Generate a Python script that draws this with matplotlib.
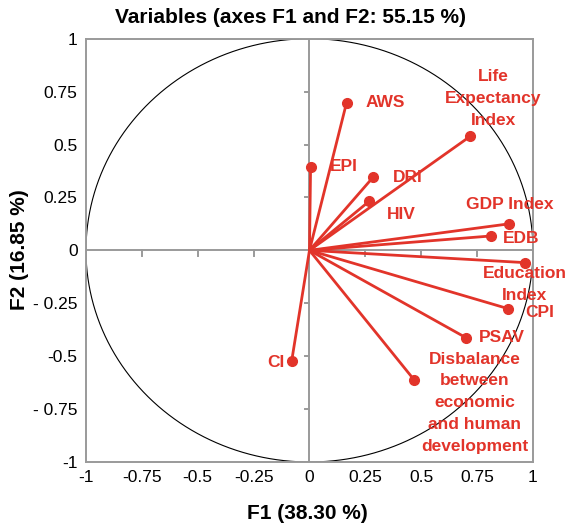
import matplotlib
matplotlib.use("Agg")
import matplotlib.pyplot as plt
import numpy as np

plt.rcParams['font.family'] = ['Liberation Sans', 'DejaVu Sans']

variables = ["AWS", "EPI", "DRI", "HIV", "Life\nExpectancy\nIndex", "GDP Index", "EDB",
             "Education\nIndex", "CPI", "PSAV",
             "Disbalance\nbetween\neconomic\nand human\ndevelopment", "CI"]
f1 = [0.166, 0.005, 0.285, 0.266, 0.718, 0.891, 0.813, 0.964, 0.887, 0.699, 0.469, -0.080]
f2 = [0.698, 0.396, 0.346, 0.231, 0.538, 0.125, 0.068, -0.058, -0.275, -0.412, -0.613, -0.525]
# label anchor positions (data coords) and alignment
lab_x = [0.25, 0.092, 0.372, 0.345, 0.822, 0.699, 0.864, 0.964, 0.967, 0.758, 0.740, -0.15]
lab_y = [0.698, 0.396, 0.342, 0.168, 0.716, 0.215, 0.058, -0.161, -0.294, -0.410, -0.720, -0.530]
lab_ha = ["left", "left", "left", "left", "center", "left", "left", "center", "left", "left", "center", "center"]

ticks = [-1, -0.75, -0.5, -0.25, 0, 0.25, 0.5, 0.75, 1]
xtick_labels = ["-1", "-0.75", "-0.5", "-0.25", "0", "0.25", "0.5", "0.75", "1"]
ytick_labels = ["-1", "- 0.75", "-0.5", "- 0.25", "0", "0.25", "0.5", "0.75", "1"]

red = "#E2342A"
grey = "#9a9a9a"

fig = plt.figure(figsize=(5.69, 5.28), dpi=100)
ax = fig.add_axes([0.1511, 0.125, 0.7856, 0.8017])
ax.set_xlim(-1, 1)
ax.set_ylim(-1, 1)

# unit circle
t = np.linspace(0, 2 * np.pi, 400)
ax.plot(np.cos(t), np.sin(t), color="black", lw=0.8, zorder=2)

# center axes
ax.axhline(0, color=grey, lw=1.4, zorder=1)
ax.axvline(0, color=grey, lw=1.4, zorder=1)
for tk in ticks:
    if tk in (-1, 0, 1):
        continue
    ax.plot([tk, tk], [0, -0.025], color=grey, lw=1.4, zorder=1)
    ax.plot([0, -0.022], [tk, tk], color=grey, lw=1.4, zorder=1)

for x, y in zip(f1, f2):
    ax.plot([0, x], [0, y], color=red, lw=2.0, zorder=3, solid_capstyle="round")
    ax.plot(x, y, "o", color=red, ms=7, zorder=4)

for name, lx, ly, ha in zip(variables, lab_x, lab_y, lab_ha):
    ax.text(lx, ly, name, color=red, fontsize=12.5, fontweight="bold", ha=ha, va="center",
            linespacing=1.57, zorder=5)

for s in ax.spines.values():
    s.set_color(grey)
    s.set_linewidth(1.4)

ax.set_xticks(ticks)
ax.set_xticklabels(xtick_labels)
ax.set_yticks(ticks)
ax.set_yticklabels(ytick_labels)
ax.tick_params(length=0, labelsize=12.5, pad=6)

fig.text(0.51, 0.967, "Variables (axes F1 and F2: 55.15 %)", ha="center", va="center",
         fontsize=15, fontweight="bold")
fig.text(0.54, 0.027, "F1 (38.30 %)", ha="center", va="center", fontsize=15, fontweight="bold")
fig.text(0.034, 0.528, "F2 (16.85 %)", ha="center", va="center", fontsize=15, fontweight="bold",
         rotation=90)

fig.savefig("out.png", dpi=100)
